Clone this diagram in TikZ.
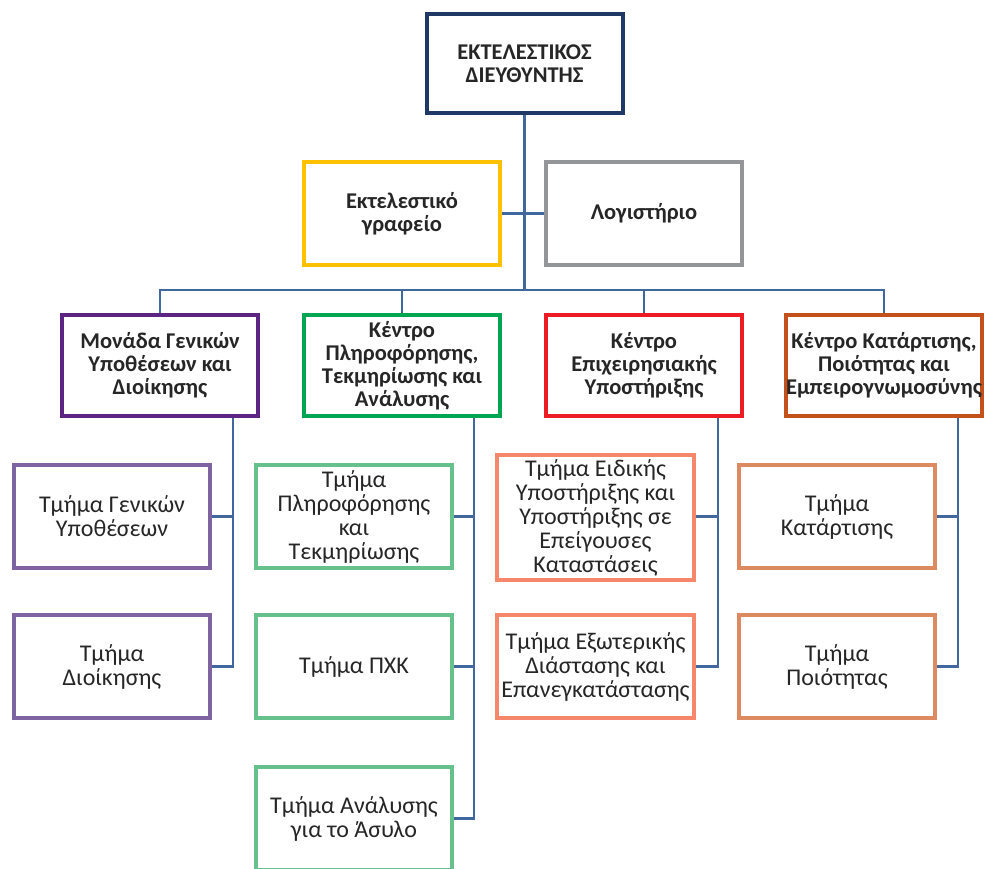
\documentclass[tikz,border=0pt]{standalone}
\usepackage{fontspec}
\setmainfont{Carlito}
\usepackage{tikz}

\definecolor{navy}{HTML}{203864}
\definecolor{gold}{HTML}{FFC000}
\definecolor{grayline}{HTML}{939598}
\definecolor{plum}{HTML}{5C2483}
\definecolor{leaf}{HTML}{00A651}
\definecolor{scarlet}{HTML}{ED1C24}
\definecolor{rust}{HTML}{C4501B}
\definecolor{lilac}{HTML}{8064A2}
\definecolor{mint}{HTML}{66C18C}
\definecolor{salmon}{HTML}{F7876A}
\definecolor{peach}{HTML}{DE8A60}
\definecolor{wire}{HTML}{41679F}

\begin{document}
\begin{tikzpicture}[x = 1pt, y = -1pt,
        box/.style = {draw, line width = 4pt, fill = white, align = center,
            minimum width = 196pt, minimum height = 103pt, inner sep = 0pt,
            text = black!85, font = \fontsize{24}{24}\selectfont},
        head/.style = {box, font = \bfseries\fontsize{22.5}{23}\selectfont},
        conn/.style = {draw = wire, line width = 2.6pt}]
        \useasboundingbox (0,0) rectangle (987,868);

        \node[head, draw = navy, minimum height = 99pt] (dir) at (524.5,63.5) {ΕΚΤΕΛΕΣΤΙΚΟΣ\\ΔΙΕΥΘΥΝΤΗΣ};
        \node[head, draw = gold] (exec) at (402,213.5) {Εκτελεστικό\\γραφείο};
        \node[head, draw = grayline] (acct) at (644,213.5) {Λογιστήριο};

        \node[head, draw = plum, minimum height = 101pt] (mon) at (160,365.5) {Μονάδα Γενικών\\Υποθέσεων και\\Διοίκησης};
        \node[head, draw = leaf, minimum height = 101pt] (info) at (402,365.5) {Κέντρο\\Πληροφόρησης,\\Τεκμηρίωσης και\\Ανάλυσης};
        \node[head, draw = scarlet, minimum height = 101pt] (ops) at (644,365.5) {Κέντρο\\Επιχειρησιακής\\Υποστήριξης};
        \node[head, draw = rust, minimum height = 101pt] (train) at (884,365.5) {Κέντρο Κατάρτισης,\\Ποιότητας και\\Εμπειρογνωμοσύνης};

        \node[box, draw = lilac] (gen) at (112,516.5) {Τμήμα Γενικών\\Υποθέσεων};
        \node[box, draw = lilac] (adm) at (112,666.5) {Τμήμα\\Διοίκησης};

        \node[box, draw = mint] (doc) at (354,516.5) {Τμήμα\\Πληροφόρησης\\και\\Τεκμηρίωσης};
        \node[box, draw = mint] (pxk) at (354,666.5) {Τμήμα ΠΧΚ};
        \node[box, draw = mint] (asyl) at (354,818.5) {Τμήμα Ανάλυσης\\για το Άσυλο};

        \node[box, draw = salmon, minimum width = 197pt, minimum height = 125pt] (spec) at (595.5,517.5) {Τμήμα Ειδικής\\Υποστήριξης και\\Υποστήριξης σε\\Επείγουσες\\Καταστάσεις};
        \node[box, draw = salmon, minimum width = 197pt] (ext) at (595.5,666.5) {Τμήμα Εξωτερικής\\Διάστασης και\\Επανεγκατάστασης};

        \node[box, draw = peach] (kat) at (837,516.5) {Τμήμα\\Κατάρτισης};
        \node[box, draw = peach] (qual) at (837,666.5) {Τμήμα\\Ποιότητας};

        % top of the tree
        \coordinate (bus) at (524,290);
        \draw[conn] (dir.south) -- (dir.south |- bus);
        \draw[conn] (exec.east) -- (acct.west);
        \draw[conn] (mon.north) |- (bus) -| (train.north);
        \draw[conn] (info.north) -- (info.north |- bus);
        \draw[conn] (ops.north) -- (ops.north |- bus);

        % branches
        \coordinate (monb) at ([xshift = 73pt]mon.south);
        \draw[conn] (monb) |- (adm.east);
        \draw[conn] (gen.east) -- (gen.east -| monb);

        \coordinate (infob) at ([xshift = 72pt]info.south);
        \draw[conn] (infob) |- (asyl.east);
        \draw[conn] (doc.east) -- (doc.east -| infob);
        \draw[conn] (pxk.east) -- (pxk.east -| infob);

        \coordinate (opsb) at ([xshift = 74pt]ops.south);
        \draw[conn] (opsb) |- (ext.east);
        \draw[conn] (spec.east |- doc.east) -- (doc.east -| opsb);

        \coordinate (trainb) at ([xshift = 74pt]train.south);
        \draw[conn] (trainb) |- (qual.east);
        \draw[conn] (kat.east) -- (kat.east -| trainb);
    \end{tikzpicture}
\end{document}
